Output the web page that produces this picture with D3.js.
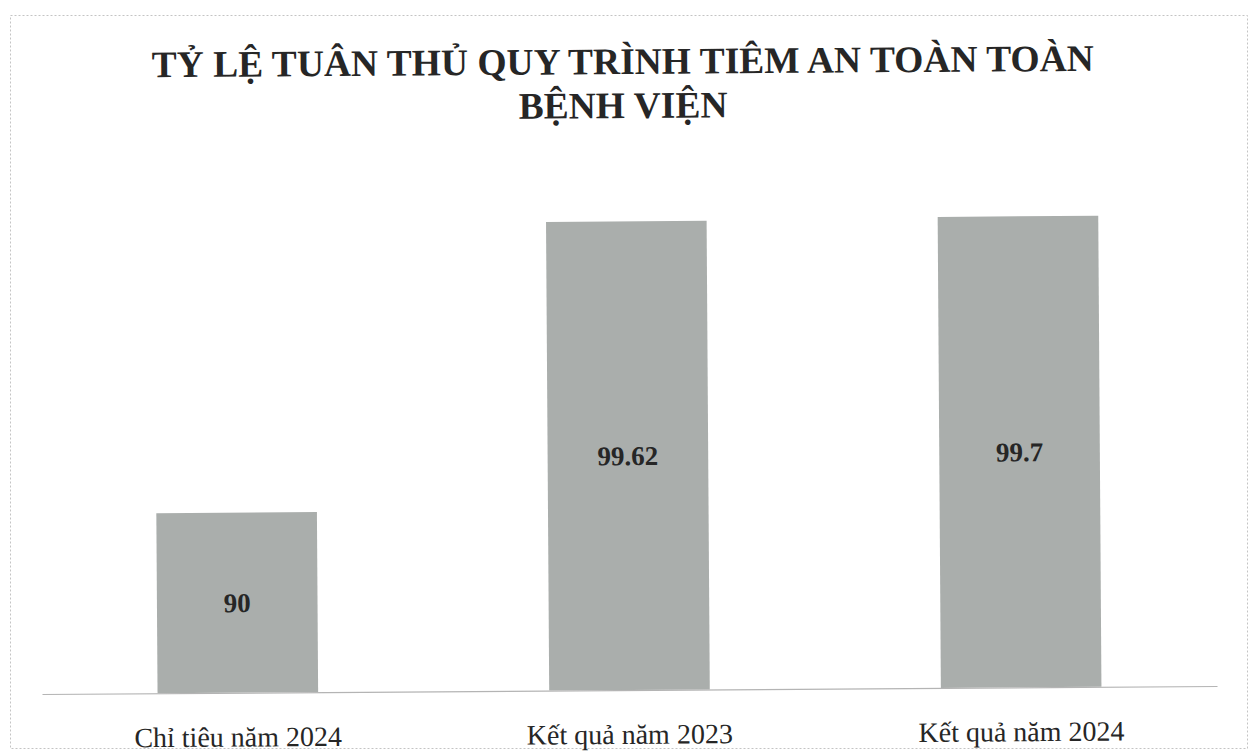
<!DOCTYPE html>
<html>
<head>
<meta charset="utf-8">
<script src="https://cdn.jsdelivr.net/npm/d3@7"></script>
<style>
  html, body { margin: 0; padding: 0; background: #ffffff; }
  svg { display: block; }
</style>
</head>
<body>
<svg id="chart" width="1256" height="754"></svg>
<script>
// Chart content
const titleLines = ["TỶ LỆ TUÂN THỦ QUY TRÌNH TIÊM AN TOÀN TOÀN", "BỆNH VIỆN"];
const categories = ["Chỉ tiêu năm 2024", "Kết quả năm 2023", "Kết quả năm 2024"];
const values = [90, 99.62, 99.7];
const valueLabels = ["90", "99.62", "99.7"];
const yDomain = [84, 100];

const W = 1256, H = 754;
const plot = { left: 42, right: 1217, top: 210, bottom: 690 };
const serif = "'Liberation Serif', 'Times New Roman', serif";

const svg = d3.select("#chart");

// outer frame of the chart area
svg.append("rect")
  .attr("x", 10.5).attr("y", 15.5)
  .attr("width", 1237).attr("height", 733)
  .attr("fill", "none")
  .attr("stroke", "#c4c4c4")
  .attr("stroke-width", 1)
  .attr("stroke-dasharray", "2,2");

// whole chart sits very slightly tilted
const g = svg.append("g")
  .attr("transform", `rotate(-0.39, 629, 690)`);

const x = d3.scaleBand()
  .domain(categories)
  .range([plot.left, plot.right])
  .paddingInner(0.59)
  .paddingOuter(0.295);

const y = d3.scaleLinear()
  .domain(yDomain)
  .range([plot.bottom, plot.top]);

// title (two centred lines)
g.selectAll("text.title")
  .data(titleLines)
  .join("text")
  .attr("class", "title")
  .attr("x", 627)
  .attr("y", (d, i) => 74 + i * 44)
  .attr("text-anchor", "middle")
  .attr("font-family", serif)
  .attr("font-weight", "bold")
  .attr("font-size", 37.5)
  .attr("fill", "#262626")
  .text(d => d);

// bars
g.selectAll("rect.bar")
  .data(values)
  .join("rect")
  .attr("class", "bar")
  .attr("x", (d, i) => x(categories[i]))
  .attr("y", d => y(d))
  .attr("width", x.bandwidth())
  .attr("height", d => plot.bottom - y(d))
  .attr("fill", "#aaaeac");

// horizontal category axis line
const xAxis = d3.axisBottom(x).tickSize(0).tickPadding(34);
const axisG = g.append("g")
  .attr("transform", `translate(0,${plot.bottom})`)
  .call(xAxis);
axisG.select(".domain")
  .attr("stroke", "#b4b4b4")
  .attr("stroke-width", 1.2);
axisG.selectAll("text")
  .attr("font-family", serif)
  .attr("font-size", 28)
  .attr("fill", "#262626");

// value labels at bar centre
g.selectAll("text.val")
  .data(values)
  .join("text")
  .attr("class", "val")
  .attr("x", (d, i) => x(categories[i]) + x.bandwidth() / 2)
  .attr("y", d => (y(d) + plot.bottom) / 2)
  .attr("dy", "0.35em")
  .attr("text-anchor", "middle")
  .attr("font-family", serif)
  .attr("font-weight", "bold")
  .attr("font-size", 27)
  .attr("fill", "#262626")
  .text((d, i) => valueLabels[i]);
</script>
</body>
</html>
